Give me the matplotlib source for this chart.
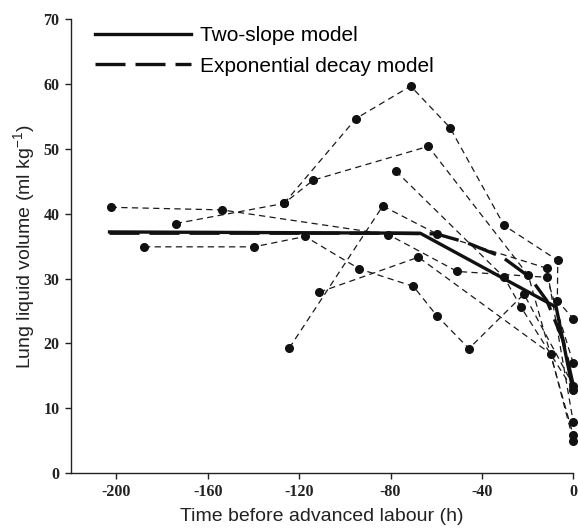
import matplotlib
matplotlib.use('Agg')
import matplotlib.pyplot as plt
from matplotlib.lines import Line2D

plt.rcParams['mathtext.fontset'] = 'custom'
plt.rcParams['mathtext.rm'] = 'Liberation Sans'
plt.rcParams['mathtext.it'] = 'Liberation Sans:italic'
plt.rcParams['axes.unicode_minus'] = False

# individual animals (time before advanced labour in h, lung liquid volume ml/kg)
animal_t = [
    [-202.5, -153.9, -81.0, -50.8, -11.6, 0],
    [-187.9, -139.8, -117.4, -93.7, -70.0, -59.8, -45.7, -21.6, 0],
    [-174.0, -126.6, -113.8, -63.5, -19.7, 0],
    [-126.6, -95.1, -71.2, -54.0, -30.3, -6.8, -7.0, 0],
    [-124.3, -83.4, -59.8, -11.6, 0],
    [-111.2, -67.8, -9.9, 0],
    [-77.7, -30.3, -22.9, 0],
]
animal_v = [
    [41.0, 40.6, 36.8, 31.1, 30.2, 16.9],
    [34.9, 34.9, 36.5, 31.5, 28.8, 24.3, 19.2, 27.6, 13.5],
    [38.5, 41.6, 45.2, 50.4, 30.5, 5.8],
    [41.6, 54.7, 59.7, 53.3, 38.2, 32.8, 26.6, 23.8],
    [19.3, 41.2, 36.9, 31.6, 7.8],
    [27.9, 33.3, 18.4, 5.0],
    [46.6, 30.2, 25.6, 12.8],
]

# fitted models
two_slope_t = [-203, -67, -7.5, 0]
two_slope_v = [37.2, 37.0, 25.6, 12.5]
exp_t = [-203, -80, -60, -47, -31, -19, -11.6, -4.4, 0]
exp_v = [37.0, 37.0, 36.9, 35.6, 33.3, 30.2, 26.6, 20.4, 13.5]

fig = plt.figure(figsize=(5.78, 5.30), dpi=100)
ax = fig.add_axes([0.1223, 0.1075, 0.8696, 0.856])

for t, v in zip(animal_t, animal_v):
    ax.plot(t, v, color='#1a1a1a', lw=0.9, linestyle=(0, (5, 3.5)),
            marker='o', markersize=5.5, markerfacecolor='#111111',
            markeredgecolor='#111111', clip_on=False, zorder=2)

ax.plot(exp_t, exp_v, color='#111111', lw=2.4, linestyle=(0, (9, 3)),
        zorder=3, clip_on=False)
ax.plot(two_slope_t, two_slope_v, color='#111111', lw=2.4, zorder=4,
        clip_on=False)

ax.set_xlim(-220, 0)
ax.set_ylim(0, 70)
ax.set_xticks([-200, -160, -120, -80, -40, 0])
ax.set_yticks(range(0, 71, 10))

for s in ['top', 'right']:
    ax.spines[s].set_visible(False)
for s in ['left', 'bottom']:
    ax.spines[s].set_linewidth(1.0)
    ax.spines[s].set_color('#222222')

ax.tick_params(direction='out', length=4, width=1.0, color='#222222', pad=4)
for lab in ax.get_xticklabels() + ax.get_yticklabels():
    lab.set_fontfamily('Liberation Serif')
    lab.set_fontweight('bold')
    lab.set_fontsize(11.5)
    lab.set_color('#222222')

ax.set_xlabel('Time before advanced labour (h)', fontfamily='Liberation Sans',
              fontsize=14, color='#222222', labelpad=6)
ax.set_ylabel(r'Lung liquid volume (ml kg$^{-1}$)', fontfamily='Liberation Sans',
              fontsize=14, color='#222222', labelpad=5)

handles = [
    Line2D([], [], color='#111111', lw=2.4),
    Line2D([], [], color='#111111', lw=2.4, linestyle=(0, (9, 3))),
]
ax.legend(handles, ['Two-slope model', 'Exponential decay model'],
          loc='upper left', bbox_to_anchor=(0.048, 0.985), frameon=False,
          borderpad=0, borderaxespad=0, handlelength=4.6, handletextpad=0.45,
          labelspacing=0.55, prop={'family': 'Liberation Sans', 'size': 15})

fig.savefig('out.png', dpi=100)
